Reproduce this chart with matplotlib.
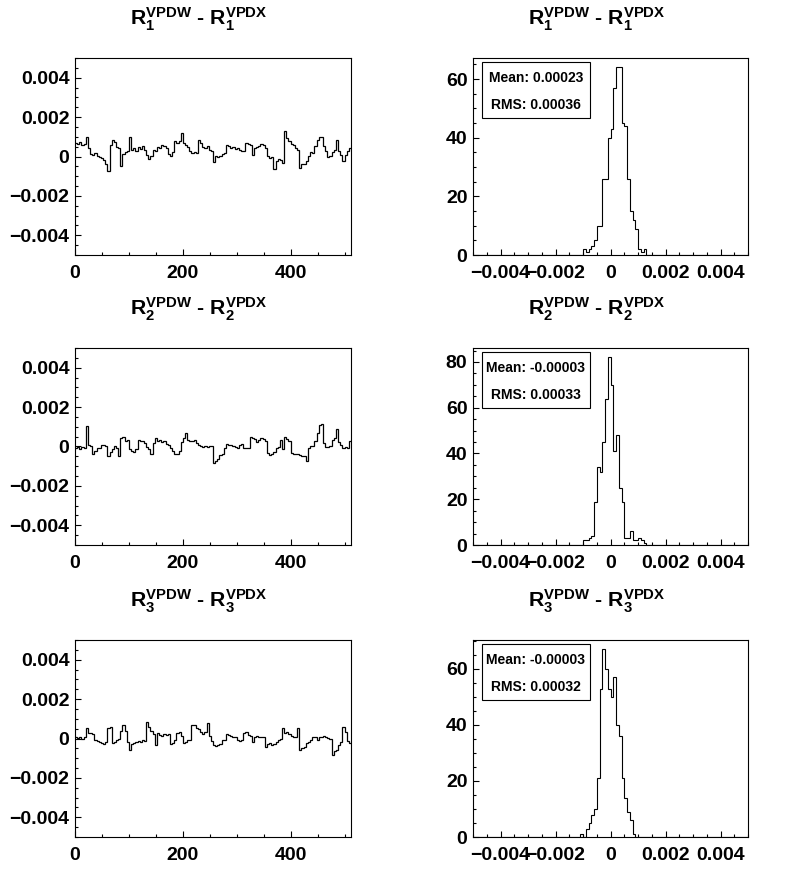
import numpy as np
import matplotlib
matplotlib.use('Agg')
import matplotlib.pyplot as plt
from matplotlib.patches import Rectangle
from matplotlib.ticker import MultipleLocator, FuncFormatter

plt.rcParams['font.family'] = ['Liberation Sans', 'DejaVu Sans']
plt.rcParams['font.weight'] = 'bold'
plt.rcParams['mathtext.fontset'] = 'custom'
plt.rcParams['mathtext.rm'] = 'Liberation Sans:bold'
plt.rcParams['mathtext.bf'] = 'Liberation Sans:bold'
plt.rcParams['mathtext.it'] = 'Liberation Sans:bold'

# R_i(VPDW) - R_i(VPDX), one value per group of 4 channels (units of 1e-3)
r1_diff = [0.68, 0.63, 0.73, 0.6, 0.63, 1.0, 0.43, 0.13, 0.07, 0.18, 0.02, -0.03, -0.1, -0.2, -0.4, -0.73,
           0.6, 0.85, 0.73, 0.48, 0.43, -0.48, 0.13, 0.23, 0.27, 0.97, 0.35, 0.43, 0.3, 0.47, 0.4, 0.52,
           0.35, 0.1, -0.15, 0.02, 0.35, 0.3, 0.48, 0.43, 0.57, 0.52, 0.43, 0.13, 0.02, 0.23, 0.77, 0.68,
           0.8, 1.18, 0.68, 0.57, 0.47, 0.27, 0.18, 0.23, 0.18, 0.85, 0.68, 0.47, 0.43, 0.52, 0.35, 0.3,
           -0.3, 0.02, -0.03, 0.02, 0.13, 0.18, 0.6, 0.52, 0.43, 0.47, 0.4, 0.43, 0.35, 0.3, 0.27, 0.68,
           0.63, 0.6, 0.1, 0.43, 0.47, 0.52, 0.63, 0.6, 0.43, 0.02, -0.07, -0.03, -0.65, -0.23, -0.15, -0.2,
           -0.32, 1.27, 0.93, 0.77, 0.63, 0.6, 0.43, 0.35, -0.57, -0.4, -0.37, -0.23, 0.02, 0.23, 0.18, 0.52,
           0.85, 0.97, 0.97, 0.52, 0.27, -0.03, 0.02, 0.23, 0.35, 0.85, 0.27, 0.1, -0.23, 0.1, 0.27, 0.43]
r2_diff = [-0.07, -0.03, -0.15, -0.03, -0.1, 1.03, 0.1, 0.02, -0.37, -0.24, -0.07, -0.1, 0.1, 0.07, 0.02, -0.49,
           -0.27, -0.15, 0.02, -0.07, -0.49, 0.44, 0.47, 0.3, 0.35, -0.15, -0.24, -0.27, -0.15, 0.35, 0.3, 0.27,
           0.19, -0.03, -0.15, -0.4, 0.19, 0.44, 0.27, 0.35, 0.24, 0.3, 0.14, 0.1, -0.07, -0.24, -0.37, -0.37,
           -0.24, 0.24, 0.44, 0.69, 0.35, 0.3, 0.27, 0.35, 0.19, 0.1, 0.02, -0.03, 0.02, -0.03, 0.02, 0.0,
           -0.85, -0.75, -0.61, -0.44, -0.37, -0.07, 0.14, 0.1, 0.07, 0.02, -0.03, -0.1, 0.1, 0.14, -0.1, -0.07,
           -0.07, 0.47, 0.44, 0.4, 0.24, 0.35, 0.44, 0.4, 0.27, -0.32, -0.44, -0.4, -0.27, -0.07, -0.03, 0.35,
           -0.15, 0.47, 0.4, 0.27, -0.32, -0.37, -0.4, -0.37, -0.44, -0.49, -0.49, -0.74, -0.07, 0.02, 0.02, 0.3,
           0.69, 1.08, 1.15, 0.19, -0.03, -0.03, 0.02, 0.35, 0.44, 0.91, 0.24, 0.1, -0.1, -0.03, -0.07, 0.3]
r3_diff = [0.1, 0.03, 0.07, -0.02, 0.1, 0.54, 0.3, 0.27, 0.24, -0.07, -0.13, -0.18, -0.24, -0.27, -0.18, 0.55,
           0.6, -0.24, -0.18, -0.07, -0.02, 0.37, 0.71, 0.37, -0.18, -0.57, -0.3, -0.24, -0.18, -0.13, -0.18, -0.1,
           -0.13, 0.82, 0.57, 0.37, 0.24, -0.35, 0.27, 0.2, 0.15, 0.24, 0.2, 0.24, -0.27, -0.24, -0.07, 0.27,
           0.32, 0.15, -0.24, -0.18, -0.07, -0.07, 0.66, 0.66, 0.54, 0.49, 0.32, 0.24, 0.32, 0.77, 0.15, -0.15,
           -0.35, -0.4, -0.35, -0.27, -0.1, -0.07, 0.24, 0.2, 0.15, 0.1, 0.07, -0.07, -0.13, -0.1, 0.27, 0.32,
           0.2, 0.15, -0.18, 0.07, 0.15, 0.1, 0.1, 0.07, -0.44, -0.27, -0.24, -0.35, -0.3, -0.18, -0.07, -0.02,
           0.54, 0.27, 0.32, 0.24, 0.15, 0.1, 0.07, 0.54, -0.57, -0.47, -0.44, -0.24, -0.18, -0.07, 0.07, 0.1,
           -0.07, 0.07, 0.1, 0.15, 0.1, 0.03, -0.02, -0.86, -0.64, -0.6, -0.35, -0.18, 0.57, 0.32, -0.13, -0.24]
n_channels = 512

# histogram of the differences: 100 bins in [-0.005, 0.005], non-empty part only
hist_range = (-0.005, 0.005)
hist_nbins = 100
hist_first_bin = [40, 40, 39]
hist1_counts = [2, 1, 2, 3, 5, 10, 10, 26, 26, 40, 43, 57, 64, 64, 45, 44, 26, 15, 12, 9, 2, 1, 2]
hist2_counts = [2, 2, 3, 4, 19, 34, 32, 45, 64, 82, 70, 41, 48, 25, 19, 3, 3, 6, 2, 2, 3, 2, 1]
hist3_counts = [1, 0, 3, 5, 8, 10, 21, 53, 67, 60, 53, 50, 57, 40, 36, 21, 14, 9, 6, 1]
mean_txt = ['0.00023', '-0.00003', '-0.00003']
rms_txt = ['0.00036', '0.00033', '0.00032']

series = [r1_diff, r2_diff, r3_diff]
hists = [hist1_counts, hist2_counts, hist3_counts]

W, H = 796, 872
fig = plt.figure(figsize=(W / 100, H / 100), dpi=100)


def px_axes(x0, y0, x1, y1):
    return fig.add_axes([x0 / W, 1 - y1 / H, (x1 - x0) / W, (y1 - y0) / H])


def root_fmt(v, _):
    if abs(v) < 1e-12:
        return '0'
    return '{:g}'.format(v).replace('-', '\u2212')


def style(ax):
    for s in ax.spines.values():
        s.set_linewidth(0.8)
    ax.tick_params(which='both', direction='in', top=False, right=False, width=0.8,
                   labelsize=14)
    ax.tick_params(which='major', length=4.5)
    ax.tick_params(which='minor', length=2.3)
    ax.tick_params(axis='x', pad=7)
    ax.tick_params(axis='y', pad=4)
    ax.xaxis.set_major_formatter(FuncFormatter(root_fmt))
    ax.yaxis.set_major_formatter(FuncFormatter(root_fmt))


row_tops = [58, 348, 640]
for i in range(3):
    top = row_tops[i]
    bot = top + 197

    # titles, centred on each half of the canvas
    for xc in (199, 597):
        fig.text(xc / W, 1 - (top - 39) / H,
                 r'$\mathbf{R_{%d}^{VPDW}}$ - $\mathbf{R_{%d}^{VPDX}}$' % (i + 1, i + 1),
                 ha='center', va='center', fontsize=15.3, fontweight='bold')

    # channel-by-channel difference
    ax = px_axes(75, top, 351, bot)
    vals = np.array(series[i]) * 1e-3
    edges = np.linspace(0, n_channels, len(vals) + 1)
    ax.stairs(vals, edges, color='black', linewidth=0.9, baseline=None)
    ax.set_xlim(0, n_channels)
    ax.set_ylim(-0.005, 0.005)
    ax.xaxis.set_major_locator(MultipleLocator(200))
    ax.xaxis.set_minor_locator(MultipleLocator(50))
    ax.yaxis.set_major_locator(MultipleLocator(0.002))
    ax.yaxis.set_minor_locator(MultipleLocator(0.0005))
    style(ax)

    # distribution
    axh = px_axes(473, top, 748, bot)
    counts = np.zeros(hist_nbins)
    c = np.array(hists[i], dtype=float)
    counts[hist_first_bin[i]:hist_first_bin[i] + len(c)] = c
    hedges = np.linspace(hist_range[0], hist_range[1], hist_nbins + 1)
    axh.stairs(counts, hedges, color='black', linewidth=0.8)
    axh.set_xlim(*hist_range)
    axh.set_ylim(0, counts.max() * 1.05)
    axh.xaxis.set_major_locator(MultipleLocator(0.002))
    axh.xaxis.set_minor_locator(MultipleLocator(0.0005))
    axh.yaxis.set_major_locator(MultipleLocator(20))
    axh.yaxis.set_minor_locator(MultipleLocator(5))
    style(axh)

    # stats box
    bx0, bx1 = 482, 590
    by0, by1 = top + 4, top + 60
    fig.patches.append(Rectangle((bx0 / W, 1 - by1 / H), (bx1 - bx0) / W, (by1 - by0) / H,
                                 transform=fig.transFigure, fill=True, facecolor='white',
                                 edgecolor='black', linewidth=0.8, zorder=5))
    xc = (bx0 + bx1) / 2 / W
    fig.text(xc, 1 - (top + 20) / H, 'Mean: ' + mean_txt[i], ha='center', va='center',
             fontsize=10, fontweight='bold', zorder=6)
    fig.text(xc, 1 - (top + 47) / H, 'RMS: ' + rms_txt[i], ha='center', va='center',
             fontsize=10, fontweight='bold', zorder=6)

fig.savefig('out.png', dpi=100)
